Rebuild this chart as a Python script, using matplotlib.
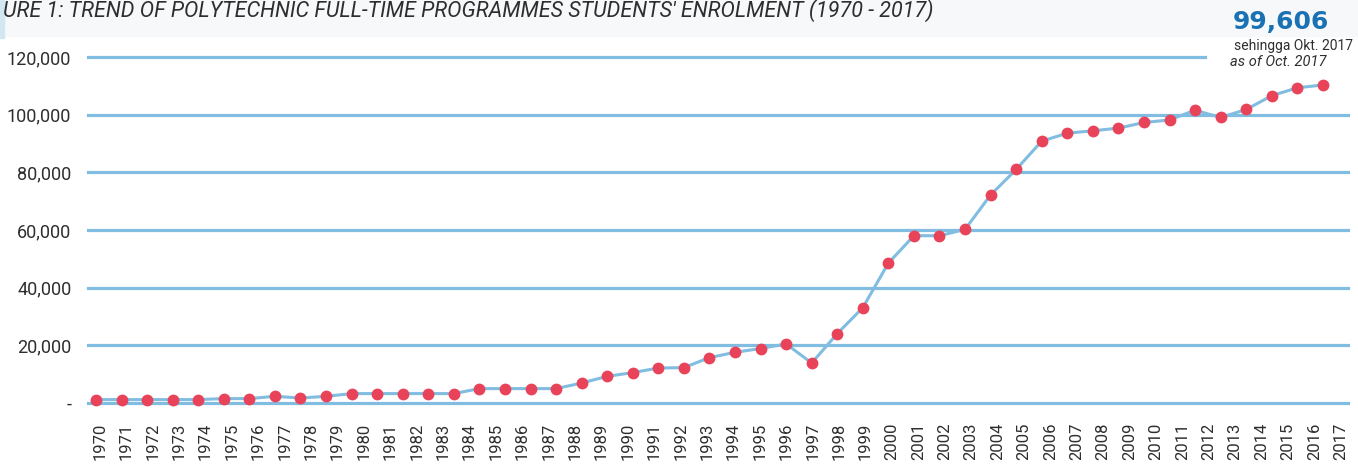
import numpy as np
import matplotlib
matplotlib.use('Agg')
import matplotlib.pyplot as plt
from matplotlib.patches import Rectangle

# enrolment points (49 markers, more than there are year labels)
enrolment = [1180, 1180, 1180, 1180, 1180, 1525, 1525, 2320, 1730, 2320,
             3260, 3260, 3260, 3260, 3260, 4990, 4990, 4990, 4990, 6930,
             9250, 10540, 12130, 12270, 15740, 17570, 18900, 20500, 13860, 24050,
             33070, 48520, 58020, 58020, 60200, 72160, 81000, 90810, 93580, 94410,
             95320, 97290, 98160, 101550, 99020, 101800, 106580, 109320, 110290]
years = [str(y) for y in range(1970, 2018)]
yticks = [0, 20000, 40000, 60000, 80000, 100000, 120000]
ytick_labels = ['-', '20,000', '40,000', '60,000', '80,000', '100,000', '120,000']

# the reference crops the start of the caption at the left edge
title = "URE 1: TREND OF POLYTECHNIC FULL-TIME PROGRAMMES STUDENTS' ENROLMENT (1970 - 2017)"
latest = '99,606'

LINE = '#80bde0'
DOT = '#e9435a'
TXT = '#2e2e2e'
FONT = ['Roboto', 'DejaVu Sans']

W, H = 1358, 466
fig = plt.figure(figsize=(W / 100, H / 100), dpi=100)

# pale header band + little blue block at the left edge
fig.patches.append(Rectangle((0, (H - 36) / H), 1, 36 / H, transform=fig.transFigure,
                             color='#f6f8fa', zorder=0))
fig.patches.append(Rectangle((0, (H - 38) / H), 4 / W, 38 / H, transform=fig.transFigure,
                             color='#d3e7f3', zorder=0))

ax = fig.add_axes([88 / W, (H - 403) / H, 1260 / W, (403 - 57) / H])
ax.patch.set_alpha(0)
ax.set_ylim(0, 120000)
x = np.arange(len(enrolment))
ax.set_xlim(-8 / 25.56, -8 / 25.56 + 1260 / 25.56)

for v in yticks:
    xmax = (1205 - 88) / 1260 if v == yticks[-1] else 1
    ax.axhline(v, xmin=0, xmax=xmax, color=LINE, lw=2.3, zorder=1, clip_on=False)

ax.plot(x, enrolment, color=LINE, lw=2.2, zorder=2, clip_on=False)
ax.plot(x, enrolment, 'o', color=DOT, ms=8.5, mec='none', zorder=3, clip_on=False)

ax.set_yticks(yticks)
ax.set_yticklabels(ytick_labels, fontsize=13, color=TXT, family=FONT)
ax.tick_params(axis='y', length=0, pad=12)
ax.set_xticks([])
for s in ax.spines.values():
    s.set_visible(False)

# year labels sit on their own category scale
ax2 = ax.twiny()
ax2.set_xlim(-12 / 26.4, -12 / 26.4 + 1260 / 26.4)
ax2.xaxis.set_ticks_position('bottom')
ax2.set_xticks(range(len(years)))
ax2.set_xticklabels(years, rotation=90, fontsize=12, color=TXT, family=FONT)
ax2.tick_params(axis='x', length=0, pad=14)
for s in ax2.spines.values():
    s.set_visible(False)

fig.text(3 / W, (H - 17) / H, title, ha='left', va='baseline', fontsize=15.5,
         style='italic', color=TXT, family=FONT)

fig.text(1281 / W, (H - 29) / H, latest, ha='center', va='baseline', fontsize=18,
         fontweight='bold', color='#1a72b3', family=['DejaVu Sans'])
fig.text(1294 / W, (H - 50) / H, 'sehingga Okt. 2017', ha='center', va='baseline',
         fontsize=10, color=TXT, family=FONT)
fig.text(1278 / W, (H - 66) / H, 'as of Oct. 2017', ha='center', va='baseline',
         fontsize=10.5, style='italic', color=TXT, family=FONT)

fig.savefig('out.png', dpi=100)
